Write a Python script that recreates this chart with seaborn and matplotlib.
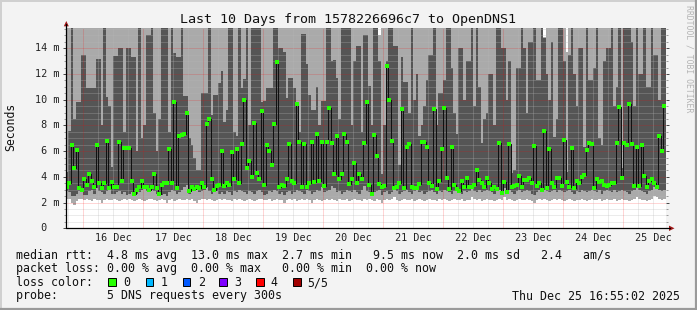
import numpy as np
import pandas as pd
import matplotlib
matplotlib.use("Agg")
import matplotlib.pyplot as plt
import seaborn as sns
from matplotlib.lines import Line2D
from matplotlib.patches import Polygon, Rectangle
import matplotlib.transforms as mtransforms

# ---------------- data (ms), one value per hour, 240 hours ----------------
median = [3.2, 3.5, 6.5, 4.7, 6.1, 3.1, 3.0, 3.8, 3.4, 4.25, 3.65, 3.2, 6.45, 3.5, 3.1, 3.5, 6.8, 3.1, 3.6, 3.2,
          3.2, 6.75, 3.7, 6.25, 6.25, 6.25, 3.65, 2.7, 3.0, 3.25, 3.7, 3.25, 3.2, 3.0, 3.25, 4.25, 3.1, 2.7, 3.4, 3.5,
          3.5, 6.15, 3.5, 9.8, 3.1, 7.2, 7.25, 7.35, 8.95, 2.9, 3.25, 3.05, 3.25, 3.15, 3.5, 3.2, 8.1, 8.5, 3.85, 3.0,
          3.3, 3.4, 6.05, 3.3, 3.5, 3.4, 5.9, 3.8, 6.2, 3.55, 6.55, 9.95, 4.7, 5.2, 4.0, 8.2, 4.3, 3.85, 9.15, 3.4,
          6.45, 6.05, 4.9, 8.15, 12.95, 3.2, 3.4, 3.3, 3.8, 6.55, 3.65, 3.55, 9.7, 6.75, 3.2, 6.55, 3.2, 3.5, 6.7, 3.6,
          7.35, 3.65, 6.7, 3.3, 6.75, 9.35, 6.6, 4.25, 7.2, 3.85, 4.2, 7.3, 6.75, 3.45, 3.8, 5.1, 3.5, 4.2, 3.8, 6.6,
          9.85, 3.35, 2.7, 7.25, 5.6, 3.45, 3.2, 3.3, 12.65, 10.0, 6.8, 3.15, 3.2, 3.5, 9.25, 3.1, 6.35, 6.55, 3.25, 3.15,
          3.1, 3.45, 6.7, 6.75, 6.3, 3.5, 3.3, 9.25, 3.05, 3.65, 6.2, 9.35, 3.95, 3.05, 6.3, 3.4, 3.05, 2.9, 3.7, 3.25,
          3.95, 3.2, 3.25, 3.35, 4.5, 3.75, 3.55, 3.2, 3.95, 3.55, 3.05, 3.2, 3.05, 6.6, 2.75, 3.6, 2.85, 6.55, 3.25, 3.3,
          3.35, 4.1, 3.2, 3.75, 3.75, 3.95, 3.5, 6.4, 3.3, 3.55, 2.95, 7.6, 3.15, 6.2, 3.55, 3.25, 3.9, 3.9, 3.3, 6.9,
          3.6, 3.25, 6.25, 3.1, 3.65, 3.5, 4.0, 4.15, 6.1, 6.6, 6.55, 3.1, 3.85, 3.6, 3.7, 3.4, 3.3, 3.4, 3.55, 3.5,
          6.6, 9.4, 3.9, 6.65, 6.5, 9.65, 6.55, 3.3, 6.35, 3.3, 6.45, 4.05, 3.2, 3.7, 3.8, 3.5, 3.2, 7.2, 6.0, 9.5]

# 4th of 5 sorted pings (top of dark smoke)
ping4 = [4.4, 7.6, 16, 8.5, 9.8, 9.8, 13.5, 13.5, 10.9, 10.9,
         10.9, 10.9, 13.2, 13.2, 8.0, 16, 10.2, 9.5, 4.8, 13.4,
         13.4, 14.0, 14.0, 7.5, 14.0, 14.0, 13.3, 13.3, 6.0, 16,
         7.0, 8.0, 15.0, 15.0, 16, 9.0, 6.0, 8.5, 16, 16,
         16, 7.5, 16, 13.6, 13.3, 13.3, 16, 10.3, 10.3, 7.0,
         6.5, 5.5, 4.5, 4.5, 10.5, 10.5, 10.5, 16, 8.8, 10.4,
         10.4, 11.3, 12.2, 8.3, 9.2, 16, 16, 7.5, 7.2, 16,
         10.9, 11.6, 16, 8.0, 16, 16, 16, 16, 9.8, 9.9,
         10.9, 10.9, 10.9, 16, 16, 14.0, 14.0, 13.7, 10.1, 11.7,
         11.7, 10.9, 9.8, 7.5, 15.1, 15.1, 12.8, 10.4, 9.2, 9.2,
         11.0, 8.0, 9.9, 9.9, 16, 16, 13.0, 13.1, 11.7, 8.5,
         16, 16, 16, 16, 8.0, 13.0, 14.2, 14.2, 7.5, 15.0,
         15.0, 11.1, 8.0, 16, 16, 13.0, 4.2, 8.0, 13.0, 16,
         16, 14.2, 14.2, 4.9, 13.3, 11.4, 11.4, 9.0, 16, 10.0,
         12.0, 7.2, 8.0, 9.5, 11.5, 13.5, 13.5, 16, 8.0, 10.5,
         10.5, 11.5, 16, 16, 12.5, 9.0, 7.3, 14.0, 14.0, 10.0,
         13.0, 13.0, 16, 9.5, 16, 11.0, 6.6, 8.5, 9.0, 12.0,
         12.0, 8.0, 16, 16, 14.0, 14.0, 10.0, 13.0, 4.3, 4.5,
         12.5, 12.5, 16, 14.0, 9.0, 14.5, 14.5, 16, 11.5, 11.5,
         16, 14.8, 12.0, 10.0, 14.5, 7.1, 8.5, 16, 16, 13.0,
         4.4, 13.5, 16, 12.0, 9.5, 14.0, 14.0, 6.3, 16, 11.5,
         11.5, 12.5, 16, 7.0, 6.5, 13.0, 14.0, 14.0, 16, 9.5,
         11.0, 16, 4.7, 16, 16, 16, 14.5, 9.5, 16, 12.0,
         12.0, 16, 11.0, 11.0, 16, 13.5, 13.5, 10.0, 16, 16]

# max ping (top of light smoke); 16 means above the top of the chart
ping5 = [16] * 240
ping5[125] = 15.0
ping5[191] = 14.9
ping5[200] = 13.7

# 2nd of 5 sorted pings (bottom of dark smoke)
ping2 = [2.9, 2.8, 2.5, 2.5, 2.7, 2.9, 2.9, 2.6, 2.6, 2.9, 3.0, 2.7, 3.1, 2.9, 2.8, 2.7, 2.9, 3.0, 2.7, 2.7, 2.8, 2.9, 2.7, 2.8,
         2.6, 2.7, 2.8, 2.6, 2.7, 2.8, 3.0, 3.1, 2.9, 2.8, 3.0, 2.9, 2.7, 2.6, 2.6, 2.7, 2.5, 2.8, 3.0, 2.9, 2.7, 2.8, 3.0, 3.2,
         3.4, 2.7, 3.0, 2.9, 3.1, 2.8, 2.9, 3.0, 3.2, 2.9, 2.7, 2.8, 2.9, 2.7, 2.8, 2.7, 2.9, 2.8, 2.6, 2.9, 2.8, 3.0, 2.9, 2.8,
         2.7, 2.9, 2.8, 2.7, 2.9, 3.0, 2.8, 2.6, 2.7, 2.9, 2.8, 3.0, 2.9, 2.7, 2.8, 2.6, 2.8, 2.9, 2.7, 2.8, 3.0, 2.9, 2.8, 2.7,
         3.0, 2.9, 2.7, 2.8, 3.0, 2.9, 3.2, 2.8, 2.9, 3.0, 3.3, 3.1, 2.8, 2.9, 2.7, 2.8, 3.0, 2.9, 2.8, 3.0, 2.8, 2.7, 3.0, 3.3,
         2.9, 2.8, 2.6, 2.8, 2.9, 3.0, 2.6, 2.8, 2.9, 2.7, 2.8, 3.0, 2.9, 2.7, 2.8, 2.9, 3.0, 2.8, 2.7, 2.9, 3.0, 2.8, 2.9, 2.7,
         2.8, 2.9, 3.0, 2.8, 2.7, 2.9, 2.8, 3.0, 2.9, 2.8, 2.7, 2.9, 3.0, 2.8, 2.7, 2.9, 2.8, 2.9, 3.1, 2.9, 2.8, 3.0, 2.8, 2.9,
         3.0, 2.9, 2.8, 2.7, 2.9, 3.0, 2.6, 3.1, 2.7, 3.0, 2.8, 2.7, 2.9, 3.0, 2.8, 2.9, 3.0, 2.9, 2.7, 2.6, 2.8, 3.0, 2.9, 3.0,
         2.9, 2.8, 2.9, 3.0, 2.8, 3.0, 2.9, 2.8, 2.9, 3.0, 2.8, 2.7, 2.9, 2.8, 3.0, 2.9, 2.8, 2.9, 3.0, 2.9, 2.8, 3.0, 2.7, 2.9,
         3.0, 2.9, 2.8, 3.0, 2.8, 2.9, 3.0, 2.9, 2.8, 2.7, 2.9, 3.0, 3.1, 3.0, 2.9, 2.8, 2.7, 2.9, 3.0, 3.2, 3.1, 3.0, 2.9, 3.0]

# min ping (bottom of light smoke)
ping1 = [2.3, 2.3, 2.0, 1.8, 2.1, 2.3, 2.3, 2.2, 2.3, 2.2, 2.1, 2.3, 2.2, 2.2, 2.0, 2.2, 2.3, 2.2, 2.2, 2.3, 2.2, 2.1, 2.2, 2.3,
         2.2, 2.3, 2.2, 2.1, 2.2, 2.3, 2.2, 2.1, 2.2, 2.3, 2.3, 2.2, 2.1, 2.2, 2.3, 2.2, 2.0, 2.2, 2.3, 2.1, 2.2, 2.3, 2.2, 2.2,
         2.3, 2.2, 2.3, 2.1, 2.0, 2.2, 2.3, 2.3, 2.2, 2.3, 2.2, 2.1, 2.2, 2.3, 2.2, 2.3, 2.2, 2.2, 2.1, 2.3, 2.2, 2.3, 2.2, 2.1,
         2.2, 2.3, 2.2, 2.1, 2.2, 2.3, 2.3, 2.2, 2.2, 2.3, 2.1, 2.2, 2.3, 2.2, 2.2, 2.0, 2.2, 2.3, 2.2, 2.3, 2.1, 2.2, 2.3, 2.2,
         2.3, 2.2, 2.0, 2.2, 2.3, 2.2, 2.1, 2.2, 2.3, 2.2, 2.3, 2.2, 2.1, 2.3, 2.2, 2.2, 2.3, 2.1, 2.2, 2.3, 2.2, 2.2, 2.1, 2.3,
         2.2, 2.3, 2.2, 2.1, 2.3, 2.2, 2.0, 2.2, 2.3, 2.2, 2.3, 2.4, 2.2, 2.1, 2.2, 2.3, 2.2, 2.2, 2.3, 2.1, 2.2, 2.3, 2.2, 2.1,
         2.2, 2.3, 2.2, 2.2, 2.1, 2.3, 2.2, 2.3, 2.2, 2.1, 2.2, 2.3, 2.2, 2.2, 2.3, 2.1, 2.2, 2.2, 2.4, 2.3, 2.2, 2.3, 2.1, 2.2,
         2.3, 2.2, 2.2, 2.1, 2.2, 2.3, 2.2, 2.4, 2.2, 2.3, 2.2, 2.1, 2.2, 2.3, 2.2, 2.2, 2.3, 2.2, 2.1, 2.0, 2.2, 2.3, 2.2, 2.3,
         2.2, 2.1, 2.2, 2.3, 2.2, 2.3, 2.2, 2.1, 2.2, 2.3, 2.2, 2.1, 2.2, 2.2, 2.3, 2.2, 2.1, 2.2, 2.3, 2.2, 2.2, 2.3, 2.1, 2.2,
         2.3, 2.2, 2.2, 2.3, 2.1, 2.2, 2.3, 2.2, 2.2, 2.1, 2.2, 2.3, 2.4, 2.3, 2.2, 2.2, 2.1, 2.2, 2.3, 2.5, 2.4, 2.3, 2.2, 2.3]

day_labels = ["16 Dec", "17 Dec", "18 Dec", "19 Dec", "20 Dec", "21 Dec", "22 Dec", "23 Dec", "24 Dec", "25 Dec"]
ytick_vals = [0, 2, 4, 6, 8, 10, 12, 14]
ytick_text = [" 0", " 2 m", " 4 m", " 6 m", " 8 m", "10 m", "12 m", "14 m"]
loss_labels = ["0", "1", "2", "3", "4", "5/5"]
loss_colors = ["#26ff00", "#00b8ff", "#0059ff", "#7e00ff", "#ff0000", "#a10000"]

title = "Last 10 Days from 1578226696c7 to OpenDNS1"
legend1 = "median rtt:  4.8 ms avg  13.0 ms max  2.7 ms min   9.5 ms now  2.0 ms sd   2.4   am/s"
legend2 = "packet loss: 0.00 % avg  0.00 % max   0.00 % min  0.00 % now"
legend3 = "loss color:"
legend4 = "probe:       5 DNS requests every 300s"
stamp = "Thu Dec 25 16:55:02 2025"

# ---------------- figure ----------------
sns.set_theme(style="white")
plt.rcParams["font.family"] = ["DejaVu Sans Mono", "DejaVu Sans"]

W, H = 697, 310
fig = plt.figure(figsize=(W / 100, H / 100), dpi=100)
fig.patch.set_facecolor("#f3f3f3")


def fx(x):
    return x / W


def fy(y):
    return 1 - y / H


X0, X1, YB, YT = 65.6, 665.6, 228.3, 28.3
YMAX = 15.556
ax = fig.add_axes([fx(X0), fy(YB), (X1 - X0) / W, (YB - YT) / H])
ax.set_facecolor("white")

start = 15 + (16 + 55 / 60) / 24
n = len(median)
t0 = start + np.arange(n) / 24.0
edges = np.append(t0, t0[-1] + 1 / 24.0)


def ext(a):
    a = np.asarray(a, float)
    return np.append(a, a[-1])


ax.fill_between(edges, ext(ping1), ext(ping5), step="post", color="#aaaaaa", lw=0, zorder=1)
ax.fill_between(edges, ext(ping2), ext(ping4), step="post", color="#555555", lw=0, zorder=2)

# grid
minor_c = (0.72, 0.72, 0.72, 0.55)
major_c = (1.0, 0.0, 0.0, 0.33)
dot = (0, (1, 1))
for v in np.arange(0.5, YMAX, 0.5):
    if abs(v / 2 - round(v / 2)) < 1e-6:
        ax.axhline(v, color=major_c, lw=0.72, ls=dot, zorder=3)
    else:
        ax.axhline(v, color=minor_c, lw=0.72, ls=dot, zorder=3)
for d in range(15, 27):
    for q in (0.25, 0.5, 0.75):
        if start < d + q < start + 10:
            ax.axvline(d + q, color=minor_c, lw=0.72, ls=dot, zorder=3)
    if start < d < start + 10:
        ax.axvline(d, color=major_c, lw=0.72, ls=dot, zorder=3)

# median: black step line + green marks (loss 0)
df = pd.DataFrame({"t": t0, "mid": t0 + 0.5 / 24, "median": median})
sns.lineplot(data=df, x="t", y="median", drawstyle="steps-post", color="#111111",
             lw=0.72, ax=ax, zorder=4, legend=False, estimator=None, sort=False)
sns.scatterplot(data=df, x="mid", y="median", marker="s", s=5.5, color="#26ff00",
                linewidth=0, ax=ax, zorder=5, legend=False)

ax.set_xlim(start, start + 10)
ax.set_ylim(0, YMAX)
for s in ax.spines.values():
    s.set_visible(False)
ax.set_xlabel("")
ax.set_ylabel("")
ax.set_xticks([d + 0.5 for d in range(16, 26)])
ax.set_xticklabels(day_labels, fontsize=7.3, color="#222222")
ax.tick_params(axis="x", length=0, pad=3.2)
ax.set_yticks(ytick_vals)
ax.set_yticklabels([])
ax.set_yticks(np.arange(0, YMAX, 0.5), minor=True)
ax.tick_params(axis="y", which="major", length=2.2, width=0.7, color="#444444", direction="out",
               left=True, right=True)
ax.tick_params(axis="y", which="minor", length=1.6, width=0.7, color="#999999", direction="out",
               left=True, right=True)

# y labels, monospace columns
ytr = mtransforms.blended_transform_factory(fig.transFigure, ax.transData)
for v, s in zip(ytick_vals, ytick_text):
    ax.text(fx(35.2), v, s, transform=ytr, ha="left", va="center", fontsize=7.3, color="#222222")

# axes lines and arrows
fig.add_artist(Line2D([fx(66.0), fx(670)], [fy(228.3), fy(228.3)], color="black", lw=0.9))
fig.add_artist(Line2D([fx(66.3), fx(66.3)], [fy(228.3), fy(24)], color="black", lw=0.9))
fig.add_artist(Polygon([[fx(63.8), fy(26.3)], [fx(68.8), fy(26.3)], [fx(66.3), fy(21)]],
                       closed=True, color="#a01818", lw=0))
fig.add_artist(Polygon([[fx(669), fy(225.6)], [fx(669), fy(231)], [fx(674.5), fy(228.3)]],
                       closed=True, color="#a01818", lw=0))

# texts
fig.text(fx(347.5), fy(19), title, ha="center", va="center", fontsize=9.6, color="#111111")
fig.text(fx(10.5), fy(127), "Seconds", rotation=90, ha="center", va="center", fontsize=8.3, color="#111111")
fig.text(fx(688.5), fy(5), "RRDTOOL / TOBI OETIKER", rotation=270, ha="center", va="top",
         fontsize=5.9, color="#b4b4b4")

fs = 8.4
fig.text(fx(16), fy(255), legend1, ha="left", va="center", fontsize=fs, color="#111111")
fig.text(fx(16), fy(268.5), legend2, ha="left", va="center", fontsize=fs, color="#111111")
fig.text(fx(16), fy(282.5), legend3, ha="left", va="center", fontsize=fs, color="#111111")
fig.text(fx(16), fy(296), legend4, ha="left", va="center", fontsize=fs, color="#111111")
fig.text(fx(680.5), fy(296), stamp, ha="right", va="center", fontsize=fs, color="#111111")

box_x = [108.3, 145.7, 182.7, 219.3, 256.3, 293.3]
lab_x = [123.0, 160.5, 198.0, 234.5, 270.5, 307.3]
for bx, lx, c, lab in zip(box_x, lab_x, loss_colors, loss_labels):
    fig.add_artist(Rectangle((fx(bx), fy(286.0)), 7.4 / W, 7.7 / H, facecolor=c,
                             edgecolor="black", lw=0.7, transform=fig.transFigure))
    fig.text(fx(lx), fy(282.5), lab, ha="left", va="center", fontsize=fs, color="#111111")

# 3-D style frame
fig.add_artist(Line2D([0, 1], [fy(0.5), fy(0.5)], color="#d0d0d0", lw=1.4))
fig.add_artist(Line2D([fx(0.5), fx(0.5)], [0, 1], color="#d0d0d0", lw=1.4))
fig.add_artist(Line2D([0, 1], [fy(309.2), fy(309.2)], color="#9a9a9a", lw=1.6))
fig.add_artist(Line2D([fx(696.2), fx(696.2)], [0, 1], color="#9a9a9a", lw=1.6))

fig.savefig("out.png", dpi=100, facecolor=fig.get_facecolor())
